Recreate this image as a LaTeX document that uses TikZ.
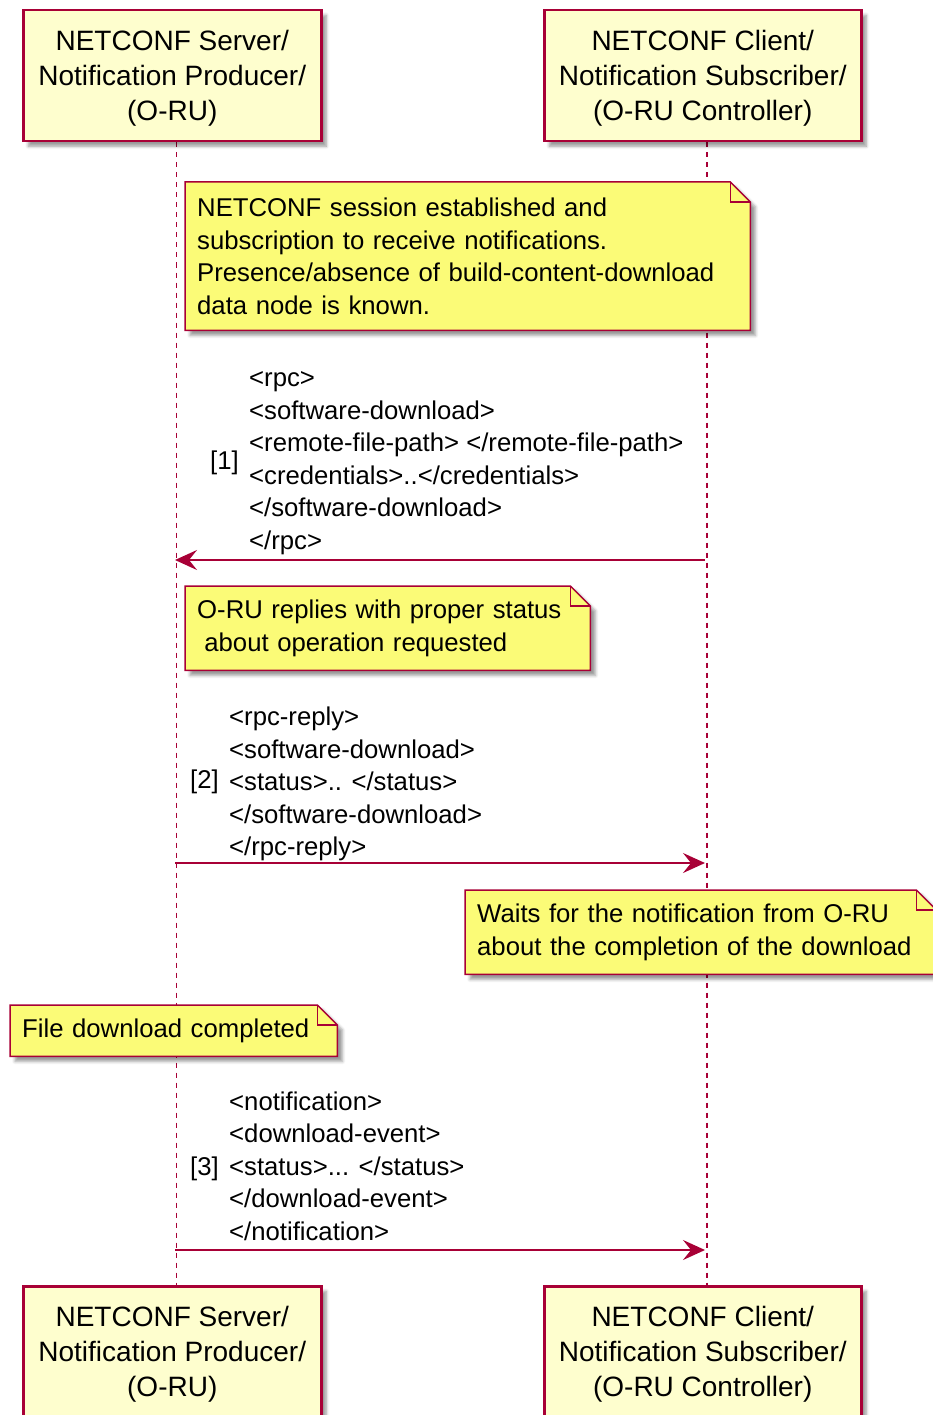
\documentclass[tikz,border=0pt]{standalone}
\usepackage{fontspec}
\setmainfont{Liberation Sans}
\usetikzlibrary{arrows.meta,shadows.blur,backgrounds}

\definecolor{umlred}{HTML}{A80036}
\definecolor{partfill}{HTML}{FEFECE}
\definecolor{notefill}{HTML}{FBFB77}

\tikzset{
  party/.style={draw=umlred, line width=2.5pt, fill=partfill, align=center,
    anchor=north west, minimum height=131pt, inner sep=0pt, text depth=0pt,
    font=\fontsize{28}{35}\selectfont,
    blur shadow={shadow xshift=5pt, shadow yshift=-5pt, shadow blur radius=3pt}},
  notetxt/.style={anchor=north west, align=left, inner xsep=12pt, inner ysep=0pt,
    font=\fontsize{25.7}{32.5}\selectfont},
  notebg/.style={draw=umlred, line width=1.5pt, fill=notefill,
    blur shadow={shadow xshift=5pt, shadow yshift=-5pt, shadow blur radius=3pt}},
  lifeline/.style={draw=umlred, line width=1.5pt, dash pattern=on 5pt off 5pt},
  msg/.style={draw=umlred, line width=2pt, -{Stealth[length=22pt,width=20pt,inset=8pt]}},
  msgtxt/.style={anchor=west, align=left, inner sep=0pt,
    font=\fontsize{25.7}{32.5}\selectfont}
}

% folded corner of a note, behind its text
\newcommand\notefold[1]{%
  \begin{pgfonlayer}{background}
  \path[notebg] (#1.south west) -- (#1.north west) -- ([xshift=-20pt]#1.north east)
    -- ([yshift=-20pt]#1.north east) -- (#1.south east) -- cycle;
  \draw[umlred, line width=1.5pt] ([xshift=-20pt]#1.north east) |- ([yshift=-20pt]#1.north east);
  \end{pgfonlayer}}

\begin{document}
\begin{tikzpicture}[x=1pt,y=-1pt]
\useasboundingbox (0,0) rectangle (932,1415);

% participants:
\node[party, minimum width=298pt] (srvTop) at (22,9) {NETCONF Server/\\Notification Producer/\\(O-RU)};
\node[party, minimum width=317pt] (cliTop) at (543,9) {NETCONF Client/\\Notification Subscriber/\\(O-RU Controller)};

\node[party, minimum width=298pt] (srvBot) at (22,1285) {NETCONF Server/\\Notification Producer/\\(O-RU)};
\node[party, minimum width=317pt] (cliBot) at (543,1285) {NETCONF Client/\\Notification Subscriber/\\(O-RU Controller)};

\begin{pgfonlayer}{background}
\draw[lifeline] ([xshift=4pt]srvTop.south) -- ([xshift=4pt]srvBot.north);
\draw[lifeline] ([xshift=4pt]cliTop.south) -- ([xshift=4pt]cliBot.north);
\end{pgfonlayer}


% session note:
\node[notetxt, text width=541pt, minimum height=148pt] (sess) at (185,182)
  {NETCONF session established and\\subscription to receive notifications.\\Presence/absence of build-content-download\\data node is known.};
\notefold{sess}


% [1] rpc:
\node[msgtxt] (num1) at (210,463) {[1]};
\node[msgtxt] (rpc) at (249,463)
  {<rpc>\\<software-download>\\<remote-file-path> </remote-file-path>\\<credentials>..</credentials>\\</software-download>\\</rpc>};
\coordinate (rpcS) at (705,560);
\coordinate (rpcE) at (175,560);
\draw[msg] (rpcS) -- (rpcE);

\node[notetxt, text width=381pt, minimum height=84pt] (reply) at (185,586)
  {O-RU replies with proper status\\\hspace*{0.28em}about operation requested};
\notefold{reply}


% [2] rpc-reply:
\node[msgtxt] (num2) at (190,782) {[2]};
\node[msgtxt] (rep) at (229,784)
  {<rpc-reply>\\<software-download>\\<status>.. </status>\\</software-download>\\</rpc-reply>};
\coordinate (repS) at (175,863);
\coordinate (repE) at (705,863);
\draw[msg] (repS) -- (repE);

\node[notetxt, text width=447pt, minimum height=84pt] (wait) at (465,890)
  {Waits for the notification from O-RU\\about the completion of the download};
\notefold{wait}

\node[notetxt, text width=303pt, minimum height=51pt] (done) at (10,1005)
  {File download completed};
\notefold{done}


% [3] notification:
\node[msgtxt] (num3) at (190,1169) {[3]};
\node[msgtxt] (notif) at (229,1166)
  {<notification>\\<download-event>\\<status>... </status>\\</download-event>\\</notification>};
\coordinate (notS) at (175,1250);
\coordinate (notE) at (705,1250);
\draw[msg] (notS) -- (notE);

\end{tikzpicture}
\end{document}
